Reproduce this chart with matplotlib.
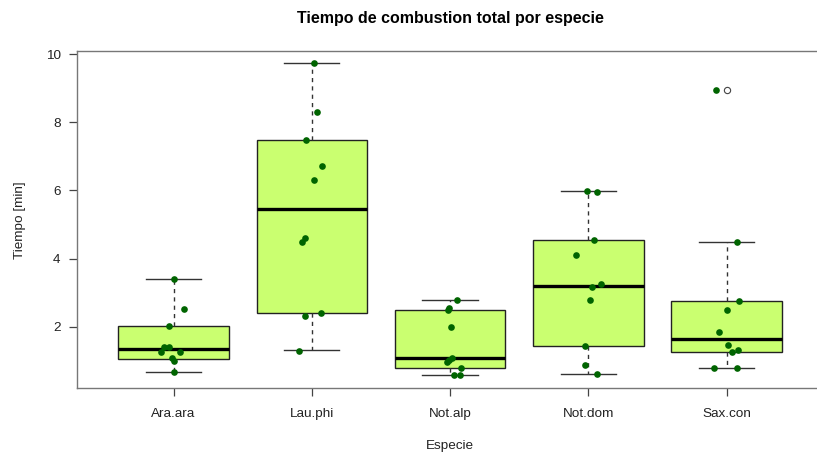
import matplotlib
matplotlib.use("Agg")
import matplotlib.pyplot as plt
import numpy as np

plt.rcParams['font.family'] = ['Liberation Sans', 'DejaVu Sans']

# ---- data ----
species = ["Ara.ara", "Lau.phi", "Not.alp", "Not.dom", "Sax.con"]

# box statistics (R-style hinges) per species
whis_lo = [0.68, 1.31, 0.57, 0.60, 0.80]
q1      = [1.05, 2.40, 0.78, 1.43, 1.25]
median  = [1.33, 5.44, 1.07, 3.18, 1.64]
q3      = [2.03, 7.49, 2.48, 4.55, 2.74]
whis_hi = [3.39, 9.73, 2.78, 5.98, 4.48]
outliers = [[], [], [], [], [8.96]]

# individual observations (jittered points)
ara_vals = [3.39, 2.53, 2.03, 1.40, 1.40, 1.25, 1.27, 1.07, 1.00, 0.68]
lau_vals = [9.73, 8.31, 7.47, 6.73, 6.29, 4.61, 4.48, 2.39, 2.30, 1.29]
nalp_vals = [2.78, 2.56, 2.50, 2.00, 1.07, 1.01, 0.97, 0.78, 0.57, 0.57]
ndom_vals = [5.98, 5.96, 4.55, 4.11, 3.26, 3.15, 2.77, 1.44, 0.87, 0.60]
sax_vals = [8.96, 4.48, 2.74, 2.50, 1.84, 1.45, 1.30, 1.25, 0.80, 0.80]

# horizontal jitter offsets (category units) as seen in the reference
ara_jit = [0.0, 0.075, -0.03, -0.07, -0.03, -0.087, 0.048, -0.014, 0.0, 0.0]
lau_jit = [0.019, 0.036, -0.039, 0.072, 0.019, -0.053, -0.072, 0.065, -0.053, -0.092]
nalp_jit = [0.048, -0.005, -0.012, 0.005, 0.012, -0.01, -0.022, 0.082, 0.029, 0.072]
ndom_jit = [-0.007, 0.06, 0.04, -0.087, 0.091, 0.029, 0.009, -0.022, -0.022, 0.06]
sax_jit = [-0.077, 0.072, 0.091, 0.005, -0.053, 0.007, 0.079, 0.036, -0.092, 0.072]

values = [ara_vals, lau_vals, nalp_vals, ndom_vals, sax_vals]
jitter = [ara_jit, lau_jit, nalp_jit, ndom_jit, sax_jit]

title = "Tiempo de combustion total por especie"
xlabel = "Especie"
ylabel = "Tiempo [min]"
yticks = [2, 4, 6, 8, 10]

# ---- figure ----
W, H = 817, 457
fig = plt.figure(figsize=(W / 100, H / 100), dpi=100)
left_px, right_px, top_px, bottom_px = 76.7, 823.6, 50.7, 388.3
ax = fig.add_axes([left_px / W, 1 - bottom_px / H,
                   (right_px - left_px) / W, (bottom_px - top_px) / H])

stats = []
for i, name in enumerate(species):
    stats.append(dict(label=name, med=median[i], q1=q1[i], q3=q3[i],
                      whislo=whis_lo[i], whishi=whis_hi[i],
                      fliers=outliers[i]))

pos = np.arange(1, len(species) + 1)
ax.bxp(stats, positions=pos, widths=0.8, capwidths=0.4, patch_artist=True,
       boxprops=dict(facecolor="#CAFF70", edgecolor="#222222", linewidth=1.0),
       medianprops=dict(color="black", linewidth=2.4),
       whiskerprops=dict(color="#333333", linewidth=1.0, linestyle=(0, (3, 3))),
       capprops=dict(color="#333333", linewidth=1.0),
       flierprops=dict(marker="o", markerfacecolor="white",
                       markeredgecolor="#444444", markersize=4.5,
                       markeredgewidth=0.8),
       zorder=2)

for i in range(len(species)):
    xs = pos[i] + np.array(jitter[i])
    ax.plot(xs, values[i], linestyle="none", marker="o", markersize=4.8,
            color="#006400", markeredgewidth=0, zorder=3)

ax.set_xlim(0.3, 5.7)
ax.set_ylim(0.19, 10.10)
ax.set_xticks(pos)
ax.set_xticklabels(species, fontsize=9.7, color="#222222")
ax.set_yticks(yticks)
ax.set_yticklabels([str(v) for v in yticks], fontsize=9.7, color="#222222")
ax.tick_params(axis="both", direction="out", length=5.5, width=0.9,
               color="#444444")
ax.tick_params(axis="x", pad=9)
ax.tick_params(axis="y", pad=6)
for s in ax.spines.values():
    s.set_color("#777777")
    s.set_linewidth(1.0)

fig.text(450 / W, 1 - 19 / H, title, ha="center", va="center",
         fontsize=11.5, fontweight="bold")
fig.text(450 / W, 1 - 446 / H, xlabel, ha="center", va="center",
         fontsize=9.7, color="#222222")
fig.text(20 / W, 1 - 220 / H, ylabel, ha="center", va="center",
         rotation=90, fontsize=9.7, color="#222222")

fig.savefig("out.png", dpi=100)
